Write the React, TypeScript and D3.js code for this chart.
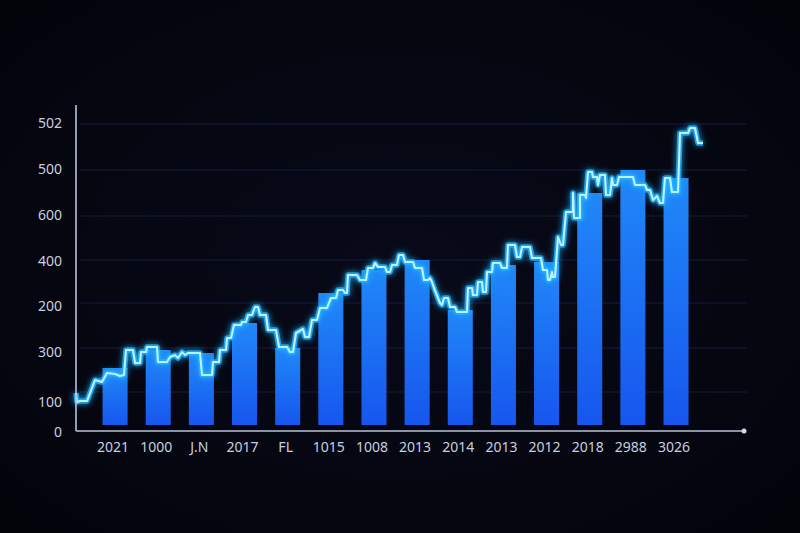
import React, { useEffect, useRef } from "react";
import * as d3 from "d3";

// categories along the x axis (labels as printed)
const categories = [
  "2021", "1000", "J.N", "2017", "FL", "1015", "1008",
  "2013", "2014", "2013", "2012", "2018", "2988", "3026",
];

// bar heights
const barValues = [114, 150, 144, 204, 154, 264, 310, 330, 230, 320, 326, 464, 510, 494];

// y tick labels (as printed) and where they sit on the value scale
const yTickLabels = ["0", "100", "300", "200", "400", "600", "500", "502"];
const yTickValues = [-12, 48, 148, 240, 330, 422, 514, 606];
const gridValues = [66, 154, 244, 330, 418, 510, 602];

// glowing step line: time index and value
const lineT = [
  0, 0.5, 2, 5.5, 9.5, 13, 15.5, 19.5, 22, 24, 25, 28.5, 29.5, 32, 32.5, 35, 35.5, 40.5, 41, 45.5,
  47, 49.5, 51, 53, 54.5, 56, 62, 63, 68, 68.5, 71.5, 72, 75, 75.5, 77.5, 79, 82.5, 83, 85, 86,
  88, 89.5, 91, 92, 95, 96, 100, 101.5, 105.5, 107, 108.5, 110, 113.5, 114.5, 116.5, 118, 120.5, 122, 125.5, 127.5,
  130, 131, 133.5, 134.5, 135.5, 136, 140.5, 142, 145, 146, 148.5, 149.5, 151, 154.5, 155.5, 157, 158, 160.5, 161.5, 163.5,
  164.5, 168.5, 169.5, 173, 174, 176, 177, 178, 179, 182, 183, 184, 186, 187, 189.5, 190.5, 195.5, 196, 198, 198.5,
  200.5, 201, 203, 203.5, 205, 205.5, 208, 208.5, 212, 213, 215.5, 216, 219.5, 220.5, 222, 223, 227, 228, 232.5, 233.5,
  235.5, 236, 237, 238, 238.5, 239.5, 241, 242.5, 243.5, 245, 248.5, 248.5, 249, 252, 252, 254.5, 255, 256, 258, 258.5, 260.5,
  261, 262, 264.5, 265, 267, 268, 268.5, 270.5, 271.5, 278.5, 279.5, 284.5, 285.5, 287, 288.5, 290.5, 292, 293.5, 294.5, 297,
  298, 301, 302, 306, 307, 309.5, 311, 313.5,
];
const lineV = [
  64, 46, 48, 48, 90, 86, 104, 102, 98, 100, 150, 150, 124, 124, 146, 146, 156, 156, 126, 126,
  136, 140, 134, 146, 140, 144, 144, 100, 100, 126, 126, 150, 150, 174, 174, 200, 200, 206, 206, 220,
  220, 236, 236, 220, 220, 190, 190, 156, 156, 146, 146, 184, 192, 176, 176, 210, 210, 234, 234, 254,
  254, 270, 270, 264, 264, 300, 300, 290, 290, 314, 314, 324, 316, 316, 306, 306, 320, 320, 340, 340,
  326, 326, 314, 314, 290, 290, 294, 286, 274, 244, 240, 254, 254, 236, 236, 226, 226, 274, 274, 260,
  260, 286, 286, 266, 266, 306, 306, 324, 324, 314, 314, 360, 360, 336, 336, 356, 356, 334, 334, 310,
  310, 290, 290, 306, 296, 296, 376, 360, 360, 426, 426, 464, 414, 414, 460, 460, 454, 506, 506, 496, 496,
  480, 500, 500, 460, 460, 494, 480, 480, 496, 496, 480, 480, 470, 470, 450, 458, 444, 444, 494, 494,
  466, 466, 584, 584, 594, 594, 564, 564,
];

const W = 800;
const H = 533;

const App: React.FC = () => {
  const ref = useRef<SVGSVGElement | null>(null);

  useEffect(() => {
    if (!ref.current) return;
    const svg = d3.select(ref.current);
    svg.selectAll("*").remove();
    svg.attr("width", W).attr("height", H);

    const axisX0 = 76;
    const axisX1 = 744;

    const x = d3.scaleBand<number>()
      .domain(d3.range(categories.length))
      .range([93.5, 697.6])
      .paddingInner(0.42)
      .paddingOuter(0.21);
    const y = d3.scaleLinear().domain([0, 652]).range([425, 99]);
    const t = d3.scaleLinear().domain([0, 334]).range([axisX0, axisX1]);
    const axisY = y(0) + 6;

    const defs = svg.append("defs");
    const bg = defs.append("radialGradient").attr("id", "bg").attr("cx", "50%").attr("cy", "50%").attr("r", "70%");
    bg.append("stop").attr("offset", "0%").attr("stop-color", "#080a1a");
    bg.append("stop").attr("offset", "100%").attr("stop-color", "#03040a");

    const barGrad = defs.append("linearGradient").attr("id", "bar").attr("x1", 0).attr("y1", 0).attr("x2", 0).attr("y2", 1);
    barGrad.append("stop").attr("offset", "0%").attr("stop-color", "#2088f8");
    barGrad.append("stop").attr("offset", "100%").attr("stop-color", "#1756ee");

    const glow = defs.append("filter").attr("id", "glow")
      .attr("x", "-10%").attr("y", "-10%").attr("width", "120%").attr("height", "120%");
    glow.append("feGaussianBlur").attr("stdDeviation", 3).attr("result", "b");
    const merge = glow.append("feMerge");
    merge.append("feMergeNode").attr("in", "b");
    merge.append("feMergeNode").attr("in", "SourceGraphic");

    svg.append("rect").attr("width", W).attr("height", H).attr("fill", "url(#bg)");

    // grid
    svg.append("g")
      .selectAll("line")
      .data(gridValues)
      .join("line")
      .attr("x1", axisX0 + 4)
      .attr("x2", axisX1 + 3)
      .attr("y1", d => y(d))
      .attr("y2", d => y(d))
      .attr("stroke", "#171d3c")
      .attr("stroke-width", 1);

    // bars
    svg.append("g")
      .selectAll("rect")
      .data(barValues)
      .join("rect")
      .attr("x", (_, i) => x(i)!)
      .attr("width", x.bandwidth())
      .attr("y", d => y(d))
      .attr("height", d => y(0) - y(d))
      .attr("fill", "url(#bar)");

    // glowing line
    const pts: [number, number][] = lineT.map((d, i) => [t(d), y(lineV[i])]);
    const path = d3.line().curve(d3.curveLinear)(pts) || "";
    svg.append("path")
      .attr("d", path)
      .attr("fill", "none")
      .attr("stroke", "#22b0ff")
      .attr("stroke-width", 5.5)
      .attr("stroke-opacity", 0.8)
      .attr("stroke-linejoin", "round")
      .attr("filter", "url(#glow)");
    svg.append("path")
      .attr("d", path)
      .attr("fill", "none")
      .attr("stroke", "#bdf3ff")
      .attr("stroke-width", 2.1)
      .attr("stroke-linejoin", "round");

    // axes
    svg.append("line")
      .attr("x1", axisX0).attr("x2", axisX0)
      .attr("y1", 105).attr("y2", axisY)
      .attr("stroke", "#b9c2d8").attr("stroke-width", 1.6);
    svg.append("line")
      .attr("x1", axisX0).attr("x2", axisX1)
      .attr("y1", axisY).attr("y2", axisY)
      .attr("stroke", "#b9c2d8").attr("stroke-width", 1.6);
    svg.append("circle").attr("cx", axisX1).attr("cy", axisY).attr("r", 2.5).attr("fill", "#d0d8ea");

    // y labels
    svg.append("g")
      .selectAll("text")
      .data(yTickValues)
      .join("text")
      .attr("x", 62)
      .attr("y", d => y(d))
      .attr("text-anchor", "end")
      .attr("dominant-baseline", "central")
      .attr("fill", "#c8cfe0")
      .attr("font-family", "'Noto Sans', sans-serif")
      .attr("font-size", "14px")
      .text((_, i) => yTickLabels[i]);

    // x labels
    svg.append("g")
      .selectAll("text")
      .data(categories)
      .join("text")
      .attr("x", (_, i) => x(i)! + x.bandwidth() / 2 - 2)
      .attr("y", axisY + 15)
      .attr("text-anchor", "middle")
      .attr("dominant-baseline", "central")
      .attr("fill", "#c8cfe0")
      .attr("font-family", "'Noto Sans', sans-serif")
      .attr("font-size", "14px")
      .text(d => d);
  }, []);

  return (
    <div style={{ position: "fixed", left: 0, top: 0, width: W, height: H, background: "#05060f" }}>
      <svg ref={ref} />
    </div>
  );
};

export default App;
